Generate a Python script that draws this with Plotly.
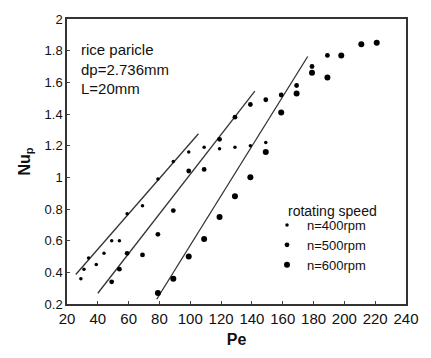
import plotly.graph_objects as go

# ---- data ----
pe_400 = [29, 31, 34, 39, 44, 49, 54, 59, 69, 79, 89, 99, 109, 119, 129, 139, 149]
nu_400 = [0.36, 0.42, 0.49, 0.45, 0.52, 0.60, 0.60, 0.77, 0.82, 0.99, 1.10, 1.16, 1.19, 1.18, 1.19, 1.20, 1.22]

pe_500 = [49, 54, 59, 69, 79, 89, 99, 109, 119, 129, 139, 149, 159, 169, 179, 189]
nu_500 = [0.34, 0.42, 0.52, 0.51, 0.64, 0.79, 1.04, 1.05, 1.24, 1.38, 1.46, 1.49, 1.52, 1.58, 1.70, 1.77]

pe_600 = [79, 89, 99, 109, 119, 129, 139, 149, 159, 169, 179, 189, 198, 211, 221]
nu_600 = [0.27, 0.36, 0.50, 0.61, 0.75, 0.88, 1.00, 1.16, 1.41, 1.53, 1.66, 1.63, 1.77, 1.84, 1.85]

# fitted lines (endpoints)
fit400_pe = [25.7, 105.3]
fit400_nu = [0.386, 1.275]
fit500_pe = [40.0, 141.9]
fit500_nu = [0.268, 1.545]
fit600_pe = [78.2, 176.2]
fit600_nu = [0.23, 1.763]

x_ticks = [20, 40, 60, 80, 100, 120, 140, 160, 180, 200, 220, 240]
y_ticks = [0.2, 0.4, 0.6, 0.8, 1.0, 1.2, 1.4, 1.6, 1.8, 2.0]
y_ticktext = ["0.2", "0.4", "0.6", "0.8", "1", "1.2", "1.4", "1.6", "1.8", "2"]

series_names = ["n=400rpm", "n=500rpm", "n=600rpm"]
info_lines = ["rice paricle", "dp=2.736mm", "L=20mm"]

FONT = "Liberation Sans, Arial, sans-serif"
LINE_COLOR = "#333333"

fig = go.Figure()

for fx, fy in [(fit400_pe, fit400_nu), (fit500_pe, fit500_nu), (fit600_pe, fit600_nu)]:
    fig.add_trace(go.Scatter(x=fx, y=fy, mode="lines",
                             line=dict(color=LINE_COLOR, width=1.3),
                             showlegend=False, hoverinfo="skip"))

for name, xs, ys, size in [(series_names[0], pe_400, nu_400, 3.5),
                           (series_names[1], pe_500, nu_500, 4.8),
                           (series_names[2], pe_600, nu_600, 6)]:
    fig.add_trace(go.Scatter(x=xs, y=ys, mode="markers", name=name,
                             marker=dict(color="black", size=size, symbol="circle")))

fig.add_annotation(text="<br>".join(info_lines), xref="paper", yref="paper",
                   x=0.035, y=0.93, xanchor="left", yanchor="top", showarrow=False,
                   align="left", font=dict(family=FONT, size=15, color="#111"))

fig.add_annotation(text="rotating speed", xref="paper", yref="paper",
                   x=0.645, y=0.325, xanchor="left", yanchor="middle", showarrow=False,
                   font=dict(family=FONT, size=14, color="#111"))

fig.update_layout(
    width=431, height=358,
    margin=dict(l=67, r=20, t=12, b=49),
    paper_bgcolor="white", plot_bgcolor="white",
    font=dict(family=FONT, color="#111"),
    legend=dict(x=0.59, y=0.33, xanchor="left", yanchor="top",
                bgcolor="rgba(0,0,0,0)", font=dict(family=FONT, size=13, color="#111"),
                itemwidth=30, tracegroupgap=0),
    showlegend=True,
)

fig.update_xaxes(range=[20, 240], tickvals=x_ticks, ticks="inside", ticklen=3,
                 showline=True, linecolor=LINE_COLOR, linewidth=1.5, mirror=True,
                 showgrid=False, zeroline=False,
                 tickfont=dict(family=FONT, size=15, color="#111"),
                 title=dict(text="<b>Pe</b>", font=dict(family=FONT, size=16, color="#111"),
                            standoff=8))
fig.update_yaxes(range=[0.2, 2.0], tickvals=y_ticks, ticktext=y_ticktext, ticks="inside",
                 ticklen=3, showline=True, linecolor=LINE_COLOR, linewidth=1.5, mirror=True,
                 showgrid=False, zeroline=False,
                 tickfont=dict(family=FONT, size=13, color="#111"),
                 title=dict(text="<b>Nu<sub>p</sub></b>", font=dict(family=FONT, size=16, color="#111"),
                            standoff=10))

fig.write_html("out.html")
